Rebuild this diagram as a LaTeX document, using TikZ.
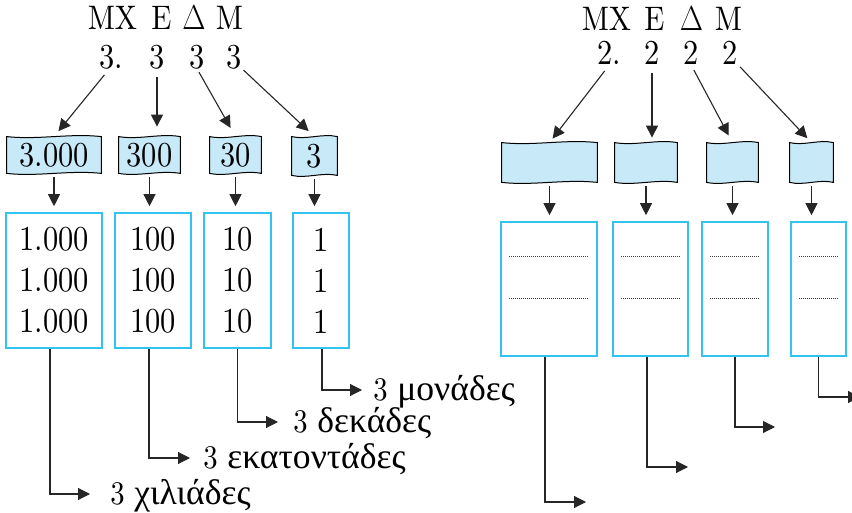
\documentclass[tikz,border=0pt]{standalone}
\usepackage{fontspec}
\setmainfont{lmroman10-regular}[Extension=.otf, FakeStretch=0.87]
\newfontfamily\grfont{Liberation Serif}[Scale=1.08]
\usepackage{xcolor}
\definecolor{flagblue}{HTML}{C8E9F8}
\definecolor{cellcyan}{HTML}{33C3F0}
\usetikzlibrary{arrows.meta,calc,backgrounds}
\newcommand{\Dcap}{\scalebox{0.87}[1]{$\Delta$}}
\tikzset{
  head/.style={inner sep=0pt, font=\fontsize{17}{19}\selectfont},
  digit/.style={inner sep=0pt, text height=11.3pt, text depth=0pt, font=\fontsize{17.5}{20}\selectfont},
  flag/.style={inner sep=0pt, font=\fontsize{17.5}{20}\selectfont},
  flagline/.style={draw=black, fill=flagblue, line width=0.5pt},
  cell/.style={draw=cellcyan, line width=0.8pt, inner sep=0pt, align=center, minimum height=67.5pt, font=\fontsize{17.5}{20.5}\selectfont},
  lab/.style={inner sep=0pt, anchor=west, text height=10.5pt, text depth=0pt, font=\fontsize{16.5}{18}\selectfont},
  dotline/.style={black!75, line width=0.4pt, dash pattern=on 0.4pt off 0.6pt},
  edge/.style={-{Triangle[length=6pt, width=6pt]}, black!85, line width=0.55pt},
}
\begin{document}
\begin{tikzpicture}[x=0.5pt, y=-0.5pt]
  \useasboundingbox (0,0) rectangle (852,513);
  % left: 3.333
  \node[head] (hmx) at (112.5,17.5) {MX};
  \node[head] (he) at (161.5,17.5) {E};
  \node[head] (hd) at (194,17.5) {\Dcap};
  \node[head] (hm) at (229.5,17.5) {M};
  \node[digit] (n1) at (111.5,57) {3.};
  \node[digit] (n2) at (157,57) {3};
  \node[digit] (n3) at (197,57) {3};
  \node[digit] (n4) at (234,57) {3};
  \node[flag, minimum width=47pt, minimum height=18pt] (f1) at (54,155) {3.000};
  \node[flag, minimum width=30.5pt, minimum height=18pt] (f2) at (149.5,155) {300};
  \node[flag, minimum width=25.5pt, minimum height=18pt] (f3) at (235.5,155) {30};
  \node[flag, minimum width=22.5pt, minimum height=19pt] (f4) at (314.5,156) {3};
  \node[cell, minimum width=48pt] (c1) at (54,280.5) {1.000\\1.000\\1.000};
  \node[cell, minimum width=38pt] (c2) at (153,280.5) {100\\100\\100};
  \node[cell, minimum width=33.5pt] (c3) at (237.5,280.5) {10\\10\\10};
  \node[cell, minimum width=28pt] (c4) at (321,280.5) {1\\1\\1};
  \node[lab] (l1) at (110,494) {3 {\grfont χιλιάδες}};
  \node[lab] (l2) at (203,458) {3 {\grfont εκατοντάδες}};
  \node[lab] (l3) at (293,422) {3 {\grfont δεκάδες}};
  \node[lab] (l4) at (373,390) {3 {\grfont μονάδες}};
  % right: 2.222
  \node[head] (kmx) at (606.5,19) {MX};
  \node[head] (ke) at (654.5,19) {E};
  \node[head] (kd) at (691.5,19) {\Dcap};
  \node[head] (km) at (728.5,19) {M};
  \node[digit] (m1) at (609.5,53) {2.};
  \node[digit] (m2) at (652,53) {2};
  \node[digit] (m3) at (691,53) {2};
  \node[digit] (m4) at (730,53) {2};
  \node[flag, minimum width=47.5pt, minimum height=19.5pt] (g1) at (549.5,162.5) {};
  \node[flag, minimum width=31pt, minimum height=19.5pt] (g2) at (646,162.5) {};
  \node[flag, minimum width=25.5pt, minimum height=19.5pt] (g3) at (732.5,162.5) {};
  \node[flag, minimum width=21.5pt, minimum height=19.5pt] (g4) at (811.5,162.5) {};
  \node[cell, minimum width=48pt, minimum height=67pt] (d1) at (549,289) {};
  \node[cell, minimum width=37.5pt, minimum height=67pt] (d2) at (650.5,289) {};
  \node[cell, minimum width=33pt, minimum height=67pt] (d3) at (735,289) {};
  \node[cell, minimum width=27.5pt, minimum height=67pt] (d4) at (818.5,289) {};
  \coordinate (e1) at (586,502);
  \coordinate (e2) at (688,467);
  \coordinate (e3) at (775,427);
  \coordinate (e4) at (860,397);
  % wavy number cards
  \begin{scope}[on background layer]
    \foreach \f in {f1,f2,f3,f4,g1,g2,g3,g4}
      \draw[flagline] (\f.north west) .. controls ($(\f.north west)!0.33!(\f.north east)+(0,3.5)$) and ($(\f.north west)!0.67!(\f.north east)+(0,-3.5)$) .. (\f.north east)
        -- (\f.south east) .. controls ($(\f.south west)!0.67!(\f.south east)+(0,-3.5)$) and ($(\f.south west)!0.33!(\f.south east)+(0,3.5)$) .. (\f.south west) -- cycle;
  \end{scope}
  \foreach \d in {d1,d2,d3,d4} {
    \draw[dotline] ($(\d.north west)+(9,35)$) -- ($(\d.north east)+(-9,35)$);
    \draw[dotline] ($(\d.north west)+(9,77)$) -- ($(\d.north east)+(-9,77)$);
  }
  % arrows
  \draw[edge, shorten <=4pt, shorten >=3.5pt] ([xshift=-1pt]n1.south) -- (f1.north);
  \draw[edge, shorten <=4pt, shorten >=5pt] (n2.south) -- (n2.south |- f2.north);
  \draw[edge, shorten <=2pt, shorten >=5pt] (n3.south) -- (f3.north);
  \draw[edge, shorten <=1pt, shorten >=4pt] (n4.south east) -- (f4.north);
  \draw[edge, shorten <=4pt, shorten >=2.5pt] (m1.south) -- (g1.north);
  \draw[edge, shorten <=4pt, shorten >=2.5pt] (m2.south) -- (m2.south |- g2.north);
  \draw[edge, shorten <=3pt, shorten >=4pt] (m3.south) -- (g3.north);
  \draw[edge, shorten <=1.5pt, shorten >=3pt] (m4.south east) -- (g4.north);
  \foreach \f/\c in {f1/c1,f2/c2,f3/c3,f4/c4,g1/d1,g2/d2,g3/d3,g4/d4}
    \draw[edge, shorten <=2pt, shorten >=3pt] (\f.south) -- (\f.south |- \c.north);
  \draw[edge, shorten >=10pt] ([xshift=-2pt]c1.south) |- (l1.west);
  \draw[edge, shorten >=6.5pt] ([xshift=-2pt]c2.south) |- (l2.west);
  \draw[edge, shorten >=7.5pt] (c3.south) |- (l3.west);
  \draw[edge, shorten >=5.5pt] ([xshift=0.5pt]c4.south) |- (l4.west);
  \draw[edge] ([xshift=-2pt]d1.south) |- (e1);
  \draw[edge] ([xshift=-1.75pt]d2.south) |- (e2);
  \draw[edge] (d3.south) |- (e3);
  \draw[edge] (d4.south) |- (e4);
\end{tikzpicture}
\end{document}
